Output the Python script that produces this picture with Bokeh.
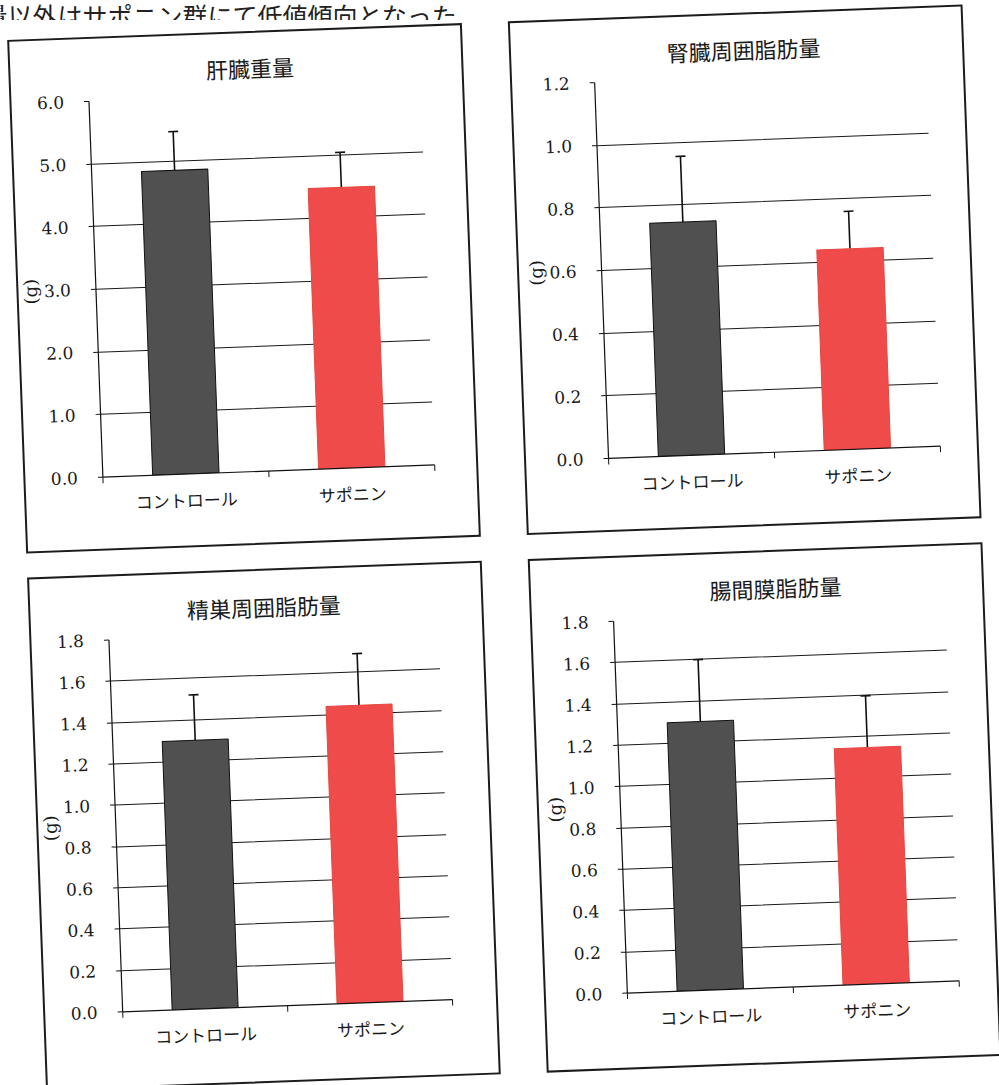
import math

from bokeh.plotting import figure
from bokeh.layouts import column, row
from bokeh.models import (Range1d, FixedTicker, NumeralTickFormatter, Whisker,
                          ColumnDataSource, Spacer, Label, TeeHead)
from bokeh.embed import file_html
from bokeh.resources import INLINE

# ---- data -------------------------------------------------------------
groups = ["コントロール", "サポニン"]

liver_title = "肝臓重量"
liver_mean = [4.85, 4.48]
liver_sd = [0.62, 0.56]
liver_ticks = [0.0, 1.0, 2.0, 3.0, 4.0, 5.0, 6.0]

kidney_title = "腎臓周囲脂肪量"
kidney_mean = [0.745, 0.64]
kidney_sd = [0.21, 0.12]
kidney_ticks = [0.0, 0.2, 0.4, 0.6, 0.8, 1.0, 1.2]

testis_title = "精巣周囲脂肪量"
testis_mean = [1.30, 1.44]
testis_sd = [0.22, 0.25]
testis_ticks = [0.0, 0.2, 0.4, 0.6, 0.8, 1.0, 1.2, 1.4, 1.6, 1.8]

mesentery_title = "腸間膜脂肪量"
mesentery_mean = [1.30, 1.145]
mesentery_sd = [0.30, 0.25]
mesentery_ticks = [0.0, 0.2, 0.4, 0.6, 0.8, 1.0, 1.2, 1.4, 1.6, 1.8]

unit_label = "(g)"
note_text = "量以外はサポニン群にて低値傾向となった。"

# ---- style ------------------------------------------------------------
bar_fill = ["#505050", "#f04b4b"]
bar_line = ["#111111", "#e5473d"]
JP = "Noto Sans CJK JP"
NUM = "DejaVu Serif"
BOX_W, BOX_H = 455, 514
FRAME_W = 333
TILT = 2.12  # degrees, the sheet sits slightly askew

# The tilted group is measured by its bounding box, so the canvas comes out
# larger than the box; size the right/bottom borders against that.
_s, _c = math.sin(math.radians(TILT)), math.cos(math.radians(TILT))
CANVAS_W = BOX_W * _c + BOX_H * _s
CANVAS_H = BOX_H * _c + BOX_W * _s


def panel(title, means, sds, ticks, left, top, frame_h, title_shift=0):
    n = len(groups)
    p = figure(width=BOX_W, height=BOX_H, output_backend="svg",
               toolbar_location=None, tools="",
               x_range=Range1d(0, n), y_range=Range1d(ticks[0], ticks[-1]),
               min_border_left=left,
               min_border_right=int(round(CANVAS_W - left - FRAME_W)),
               min_border_top=top,
               min_border_bottom=int(round(CANVAS_H - top - frame_h)),
               title=title)
    p.outline_line_color = None
    p.background_fill_color = None
    p.border_fill_color = None
    p.styles = {"outline": "2px solid #1c1c1c", "outline-offset": "-2px"}

    # title
    p.title.align = "left"
    p.title.offset = 238 + title_shift - left - len(title) * 22 / 2
    p.title.text_font = JP
    p.title.text_font_size = "22px"
    p.title.text_font_style = "normal"
    p.title.text_color = "#1a1a1a"
    p.title.standoff = 24

    xs = [i + 0.5 for i in range(n)]
    src = ColumnDataSource(dict(
        x=xs, top=means,
        upper=[m + s for m, s in zip(means, sds)],
        fill=bar_fill, line=bar_line))
    p.vbar(x="x", top="top", bottom=0, width=0.4, source=src,
           fill_color="fill", line_color="line", line_width=1)
    p.add_layout(Whisker(source=src, base="x", lower="top", upper="upper",
                         line_color="#111111", line_width=1.6,
                         upper_head=TeeHead(size=10, line_width=1.6,
                                            line_color="#111111"),
                         lower_head=None))

    # category axis: labels at centres, ticks at boundaries
    xa = p.xaxis[0]
    xa.ticker = FixedTicker(ticks=xs, minor_ticks=list(range(n + 1)))
    xa.major_label_overrides = {x: g for x, g in zip(xs, groups)}
    xa.major_tick_out = 0
    xa.major_tick_in = 0
    xa.minor_tick_out = 6
    xa.minor_tick_in = 0
    xa.minor_tick_line_color = "#111111"
    xa.axis_line_color = "#111111"
    xa.axis_line_width = 1.2
    xa.major_label_text_font = JP
    xa.major_label_text_font_size = "17px"
    xa.major_label_text_color = "#1a1a1a"
    xa.major_label_standoff = 7

    ya = p.yaxis[0]
    ya.ticker = FixedTicker(ticks=ticks, minor_ticks=[])
    ya.formatter = NumeralTickFormatter(format="0.0")
    ya.major_tick_out = 5
    ya.major_tick_in = 0
    ya.minor_tick_out = 0
    ya.minor_tick_in = 0
    ya.major_tick_line_color = "#111111"
    ya.axis_line_color = "#111111"
    ya.axis_line_width = 1.2
    ya.major_label_text_font = NUM
    ya.major_label_text_font_size = "17px"
    ya.major_label_text_color = "#1a1a1a"
    ya.major_label_standoff = 20
    ya.axis_label = unit_label
    ya.axis_label_text_font = NUM
    ya.axis_label_text_font_size = "18px"
    ya.axis_label_text_font_style = "normal"
    ya.axis_label_text_color = "#1a1a1a"
    ya.axis_label_standoff = max(left - 20 - 10 - 54, 0)

    p.xgrid.visible = False
    p.ygrid.ticker = FixedTicker(ticks=ticks)
    p.ygrid.grid_line_color = "#1a1a1a"
    p.ygrid.grid_line_width = 1
    return p


p1 = panel(liver_title, liver_mean, liver_sd, liver_ticks, 79, 61, 379, title_shift=3)
p2 = panel(kidney_title, kidney_mean, kidney_sd, kidney_ticks, 84, 64, 379,
           title_shift=-4)
p3 = panel(testis_title, testis_mean, testis_sd, testis_ticks, 77, 64, 373,
           title_shift=-5)
p4 = panel(mesentery_title, mesentery_mean, mesentery_sd, mesentery_ticks, 83, 65, 375,
           title_shift=8)

# running text line above the charts
head = figure(width=520, height=20, output_backend="svg", toolbar_location=None,
              tools="", x_range=Range1d(0, 520), y_range=Range1d(0, 20),
              x_axis_location=None, y_axis_location=None, min_border=0)
head.outline_line_color = None
head.grid.visible = False
head.add_layout(Label(x=-18, y=6, text=note_text, text_font=JP,
                      text_font_size="25px", text_color="#222222",
                      text_baseline="alphabetic"))

grid = column(
    Spacer(height=2),
    row(Spacer(width=26), p1, Spacer(width=46), p2),
    Spacer(height=24),
    row(Spacer(width=26), p3, Spacer(width=46), p4),
    styles={"transform": f"rotate(-{TILT}deg)", "transform-origin": "500px 520px"},
)
root = column(head, grid, styles={"background-color": "white"})

open("out.html", "w").write(file_html(root, INLINE))
